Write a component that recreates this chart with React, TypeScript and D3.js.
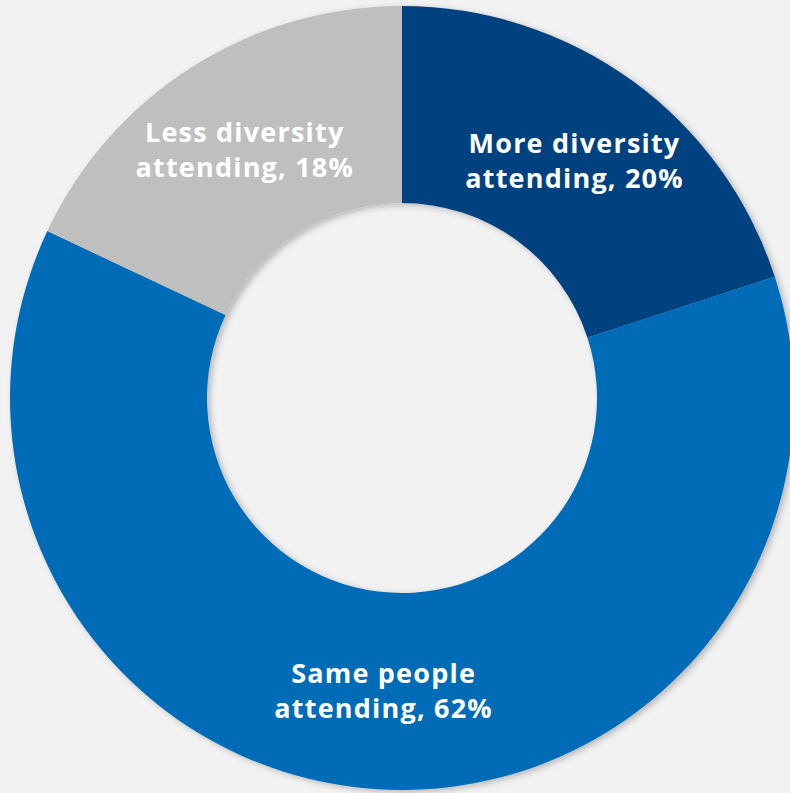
import React from "react";
import * as d3 from "d3";

const categories = ["More diversity attending", "Same people attending", "Less diversity attending"];
const values = [20, 62, 18];
const labelLines = [
  ["More diversity", "attending, 20%"],
  ["Same people", "attending, 62%"],
  ["Less diversity", "attending, 18%"],
];
const colors = ["#01437f", "#006cb7", "#bfbfbf"];

export default function App() {
  const W = 790, H = 793;
  const cx = 402, cy = 398;
  const outerR = 392, innerR = 195;
  const pie = d3.pie<number>().sort(null).value((d) => d);
  const arcs = pie(values);
  const arc = d3.arc<d3.PieArcDatum<number>>().innerRadius(innerR).outerRadius(outerR);
  return (
    <svg width={W} height={H} style={{ position: "fixed", left: 0, top: 0 }}>
      <defs>
        <filter id="sh" x="-10%" y="-10%" width="120%" height="120%">
          <feDropShadow dx="3" dy="2" stdDeviation="3" floodColor="#000" floodOpacity="0.25" />
        </filter>
      </defs>
      <rect width={W} height={H} fill="#f2f2f2" />
      <g transform={`translate(${cx},${cy})`}>
        <g filter="url(#sh)">
          {arcs.map((a, i) => (
            <path key={categories[i]} d={arc(a) || ""} fill={colors[i]} />
          ))}
        </g>
        {arcs.map((a, i) => {
          const [x, y] = arc.centroid(a);
          return (
            <text
              key={"t" + i}
              x={x}
              y={y}
              textAnchor="middle"
              fill="#fff"
              fontFamily="'Open Sans', sans-serif"
              fontWeight={700}
              fontSize={27}
              letterSpacing={1.2}
            >
              <tspan x={x} dy={-8}>{labelLines[i][0]}</tspan>
              <tspan x={x} dy={35}>{labelLines[i][1]}</tspan>
            </text>
          );
        })}
      </g>
    </svg>
  );
}
